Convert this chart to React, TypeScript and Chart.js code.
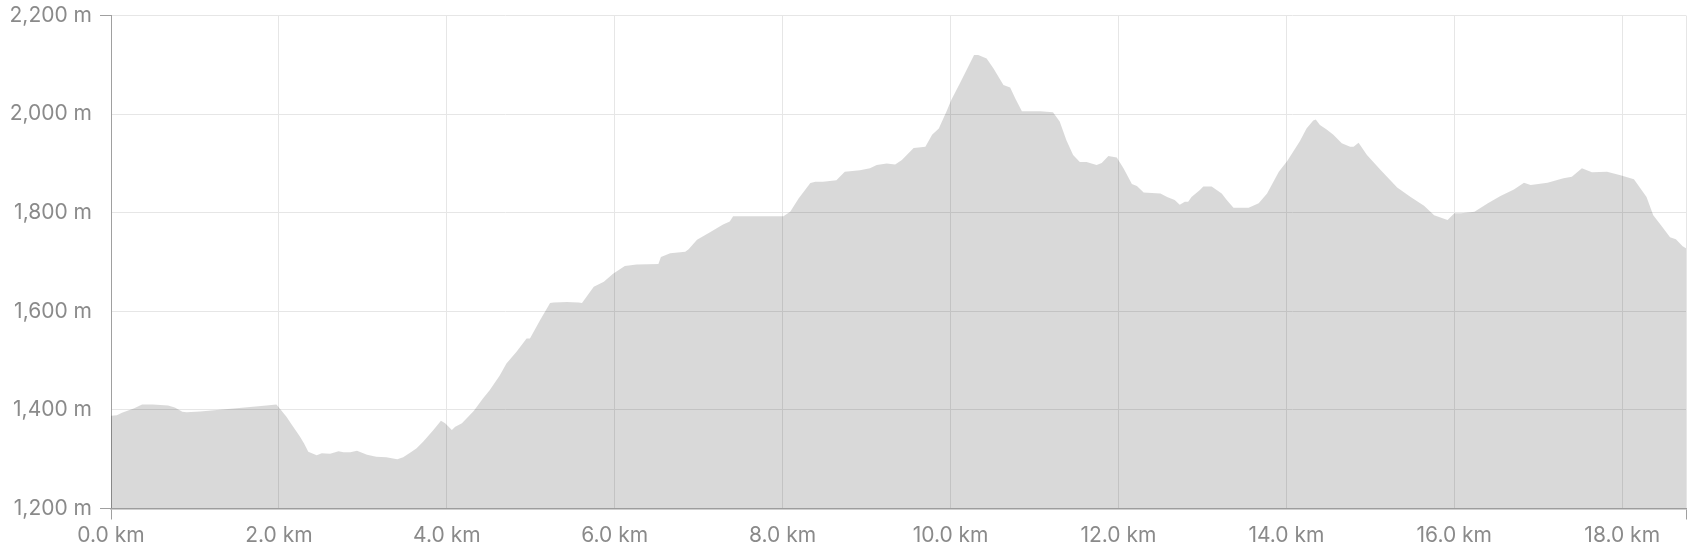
import { useEffect, useRef } from 'react';
import { Chart, registerables } from 'chart.js';

Chart.register(...registerables);

const distanceKm = [
  0.0, 0.07, 0.13, 0.27, 0.37, 0.5, 0.68, 0.76, 0.85, 0.9, 1.06, 1.46, 1.85, 1.97,
  2.01, 2.09, 2.17, 2.25, 2.3, 2.35, 2.45, 2.51, 2.61, 2.71, 2.77, 2.85, 2.93, 3.05,
  3.16, 3.28, 3.41, 3.48, 3.58, 3.64, 3.72, 3.84, 3.93, 3.98, 4.06, 4.1, 4.18, 4.32,
  4.43, 4.51, 4.63, 4.71, 4.83, 4.95, 4.99, 5.11, 5.23, 5.27, 5.43, 5.57, 5.61, 5.75,
  5.87, 5.98, 6.12, 6.26, 6.52, 6.55, 6.66, 6.84, 6.88, 6.98, 7.14, 7.29, 7.37, 7.41,
  8.01, 8.09, 8.19, 8.33, 8.39, 8.48, 8.64, 8.74, 8.92, 9.04, 9.12, 9.24, 9.34, 9.42,
  9.56, 9.7, 9.78, 9.86, 9.95, 10.01, 10.11, 10.21, 10.28, 10.33, 10.43, 10.51, 10.63,
  10.71, 10.77, 10.85, 11.07, 11.22, 11.3, 11.38, 11.46, 11.54, 11.62, 11.74, 11.8,
  11.88, 11.98, 12.06, 12.16, 12.22, 12.3, 12.5, 12.58, 12.67, 12.73, 12.79, 12.83,
  12.87, 12.97, 13.01, 13.11, 13.23, 13.29, 13.37, 13.55, 13.67, 13.77, 13.91, 14.01,
  14.16, 14.24, 14.32, 14.35, 14.4, 14.48, 14.56, 14.66, 14.76, 14.8, 14.86, 14.96,
  15.12, 15.32, 15.48, 15.64, 15.76, 15.92, 16.0, 16.08, 16.24, 16.4, 16.55, 16.71,
  16.83, 16.91, 17.11, 17.3, 17.4, 17.52, 17.64, 17.82, 17.98, 18.14, 18.29, 18.37,
  18.46, 18.57, 18.64, 18.72, 18.76,
];

const elevationM = [
  1388, 1389, 1394, 1403, 1411, 1411, 1409, 1405, 1396, 1395, 1397, 1403, 1409, 1411,
  1403, 1386, 1366, 1346, 1332, 1315, 1308, 1312, 1311, 1316, 1314, 1314, 1317, 1309,
  1305, 1304, 1300, 1304, 1315, 1322, 1336, 1359, 1378, 1373, 1359, 1366, 1373, 1398,
  1423, 1440, 1470, 1494, 1518, 1545, 1545, 1582, 1617, 1618, 1619, 1618, 1617, 1650,
  1660, 1676, 1692, 1695, 1696, 1710, 1718, 1721, 1726, 1745, 1761, 1776, 1782, 1793,
  1793, 1802, 1829, 1860, 1863, 1863, 1866, 1883, 1886, 1890, 1897, 1900, 1898, 1907,
  1931, 1934, 1958, 1971, 2005, 2029, 2062, 2096, 2120, 2120, 2113, 2093, 2059,
  2054, 2032, 2006, 2006, 2004, 1985, 1947, 1917, 1903, 1903, 1897, 1901,
  1915, 1912, 1890, 1858, 1854, 1841, 1839, 1832, 1826, 1816, 1822, 1822,
  1832, 1846, 1853, 1853, 1839, 1826, 1810, 1810, 1819, 1839, 1883, 1905,
  1945, 1971, 1987, 1989, 1978, 1969, 1958, 1941, 1934, 1934, 1942, 1917,
  1887, 1851, 1832, 1814, 1795, 1785, 1799, 1799, 1802, 1819, 1834, 1847,
  1861, 1856, 1861, 1870, 1873, 1890, 1882, 1883, 1876, 1868, 1832, 1795,
  1775, 1750, 1746, 1732, 1728,
];

const yTickValues = [1200, 1400, 1600, 1800, 2000, 2200];
const xTickStepKm = 2;

const LABEL_COLOR = '#8a8a8a';
const AXIS_COLOR = '#a0a0a0';
const GRID_COLOR = '#e6e6e6';
const FONT = { family: 'Inter, "Liberation Sans", sans-serif', size: 21 };

export default function App() {
  const ref = useRef<HTMLCanvasElement>(null);

  useEffect(() => {
    const maxKm = distanceKm[distanceKm.length - 1];
    const isEnd = (ctx: any) => {
      const n = ctx.scale?.ticks?.length ?? 0;
      return ctx.index === 0 || ctx.index === n - 1;
    };
    const chart = new Chart(ref.current!, {
      type: 'line',
      data: {
        datasets: [
          {
            data: distanceKm.map((x, i) => ({ x, y: elevationM[i] })),
            fill: 'start',
            backgroundColor: 'rgba(0,0,0,0.15)',
            borderWidth: 0,
            borderColor: 'rgba(0,0,0,0)',
            pointRadius: 0,
            tension: 0,
          },
        ],
      },
      options: {
        animation: false,
        responsive: false,
        maintainAspectRatio: false,
        layout: { padding: { top: 15.5, right: 14, left: 0, bottom: 0 } },
        plugins: { legend: { display: false }, tooltip: { enabled: false } },
        scales: {
          x: {
            type: 'linear',
            min: 0,
            max: maxKm,
            afterBuildTicks: (s: any) => {
              const t: any[] = [];
              for (let v = 0; v < maxKm - 1e-9; v += xTickStepKm) t.push({ value: v });
              t.push({ value: maxKm });
              s.ticks = t;
            },
            afterFit: (s: any) => {
              s.height = 41.5;
              s.paddingLeft = 0;
              s.paddingRight = 0;
            },
            ticks: {
              autoSkip: false,
              maxRotation: 0,
              padding: 4,
              color: LABEL_COLOR,
              font: FONT,
              callback: (v: any) => {
                const n = Number(v) / xTickStepKm;
                return Math.abs(n - Math.round(n)) < 1e-6 ? Number(v).toFixed(1) + ' km' : '';
              },
            },
            grid: {
              color: GRID_COLOR,
              tickLength: 11,
              tickColor: (ctx: any) => (isEnd(ctx) ? AXIS_COLOR : 'rgba(0,0,0,0)'),
            },
            border: { color: AXIS_COLOR, width: 1.5 },
          },
          y: {
            type: 'linear',
            min: yTickValues[0],
            max: yTickValues[yTickValues.length - 1],
            afterBuildTicks: (s: any) => {
              s.ticks = yTickValues.map((value) => ({ value }));
            },
            afterFit: (s: any) => {
              s.width = 111;
              s.paddingTop = 0;
              s.paddingBottom = 0;
            },
            ticks: {
              padding: 8,
              color: LABEL_COLOR,
              font: FONT,
              callback: (v: any) => Number(v).toLocaleString('en-US') + ' m',
            },
            grid: {
              color: GRID_COLOR,
              tickLength: 11,
              tickColor: (ctx: any) => (isEnd(ctx) ? AXIS_COLOR : 'rgba(0,0,0,0)'),
            },
            border: { color: AXIS_COLOR, width: 1 },
          },
        },
      },
    });
    return () => chart.destroy();
  }, []);

  return (
    <div style={{ position: 'fixed', left: 0, top: 0, width: 1700, height: 550, background: '#fff' }}>
      <canvas ref={ref} width={1700} height={550} style={{ display: 'block' }} />
    </div>
  );
}
